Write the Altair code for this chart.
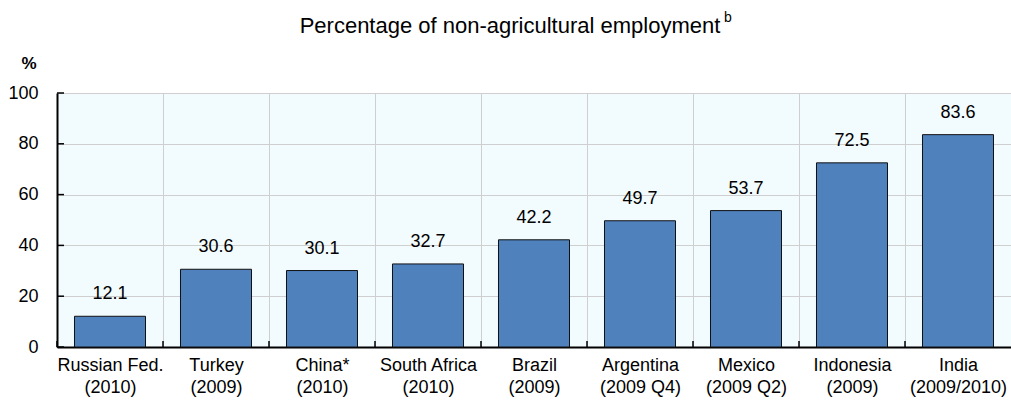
import altair as alt
import pandas as pd

countries = ["Russian Fed.|(2010)", "Turkey|(2009)", "China*|(2010)", "South Africa|(2010)",
             "Brazil|(2009)", "Argentina|(2009 Q4)", "Mexico|(2009 Q2)", "Indonesia|(2009)",
             "India|(2009/2010)"]
values = [12.1, 30.6, 30.1, 32.7, 42.2, 49.7, 53.7, 72.5, 83.6]
y_ticks = [0, 20, 40, 60, 80, 100]

title_text = "Percentage of non-agricultural employment"
title_sup = "b"
unit_text = "%"

df = pd.DataFrame({"cat": countries, "v": values})
df_yt = pd.DataFrame({"yt": y_ticks})
df_one = pd.DataFrame({"a": [0]})

FONT = "Liberation Sans"

xscale = alt.Scale(paddingInner=0, paddingOuter=0)
yscale = alt.Scale(domain=[0, 100], nice=False)

x_axis = alt.Axis(
    title=None, labelAngle=0, labelFont=FONT, labelFontSize=18, labelColor="black",
    labelPadding=9, labelExpr="split(datum.label, '|')", labelLineHeight=22,
    domainColor="black", domainWidth=2, ticks=False, tickSize=0,
    grid=True, tickBand="extent", gridColor="#CFCFCF", gridWidth=1,
)
y_axis = alt.Axis(
    title=None, values=y_ticks, labelFont=FONT, labelFontSize=18, labelColor="black",
    labelPadding=19, domainColor="black", domainWidth=2, ticks=False, tickSize=0,
    grid=True, gridColor="#CFCFCF", gridWidth=1,
)

base = alt.Chart(df)

bars = base.mark_bar(
    width=alt.RelativeBandSize(0.67), fill="#4F81BD", stroke="#111111", strokeWidth=1
).encode(
    x=alt.X("cat:N", sort=None, scale=xscale, axis=x_axis),
    y=alt.Y("v:Q", scale=yscale, axis=y_axis),
)

labels = base.mark_text(
    font=FONT, fontSize=18, color="black", baseline="alphabetic", dy=-17
).encode(
    x=alt.X("cat:N", sort=None),
    y=alt.Y("v:Q"),
    text=alt.Text("v:Q", format=".1f"),
)

xticks = base.mark_rule(color="black", strokeWidth=1.5).encode(
    x=alt.X("cat:N", sort=None, bandPosition=0),
    y=alt.value(254),
    y2=alt.value(248),
)

yticks = alt.Chart(df_yt).mark_rule(color="black", strokeWidth=1.5).encode(
    y=alt.Y("yt:Q"),
    x=alt.value(0),
    x2=alt.value(7),
)

title = alt.Chart(df_one).mark_text(
    text=title_text, font=FONT, fontSize=22, color="black", align="center", baseline="alphabetic"
).encode(x=alt.value(453), y=alt.value(-60))

sup = alt.Chart(df_one).mark_text(
    text=title_sup, font=FONT, fontSize=14, color="black", align="left", baseline="alphabetic"
).encode(x=alt.value(667), y=alt.value(-71))

unit = alt.Chart(df_one).mark_text(
    text=unit_text, font=FONT, fontSize=17, fontWeight="bold", color="black",
    align="center", baseline="alphabetic"
).encode(x=alt.value(-28), y=alt.value(-24))

chart = alt.layer(bars, labels, xticks, yticks, title, sup, unit).properties(
    width=954, height=254,
    autosize=alt.AutoSizeParams(type="none"),
    padding={"left": 57, "top": 93, "right": 0, "bottom": 56},
    background="white",
).configure_view(fill="#F2FBFE", stroke=None)

chart.save("out.html", embed_options={"renderer": "svg", "actions": False})
